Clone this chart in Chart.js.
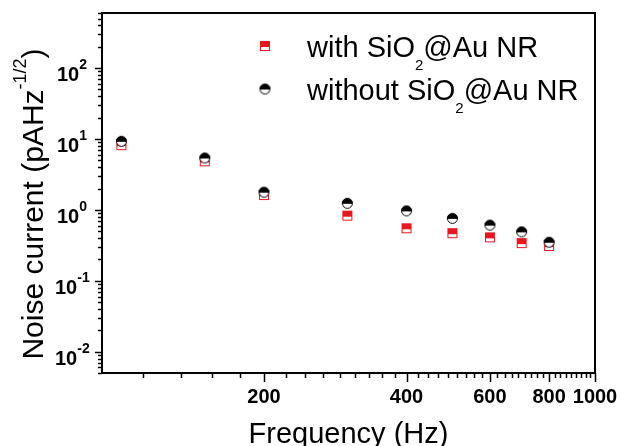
<!DOCTYPE html>
<html>
<head>
<meta charset="utf-8">
<title>Noise current vs frequency</title>
<script src="https://cdn.jsdelivr.net/npm/chart.js@4.4.1/dist/chart.umd.min.js"></script>
<style>
    html, body { margin: 0; padding: 0; background: #fff; }
    #wrap { width: 621px; height: 446px; position: relative; }
</style>
</head>
<body>
<div id="wrap"><canvas id="noiseChart"></canvas></div>
<script>
// measured noise current (pA/Hz^1/2) at each frequency
const frequencies = [100, 150, 200, 300, 400, 500, 600, 700, 800];
const withNR = [8.2, 4.85, 1.62, 0.83, 0.55, 0.47, 0.41, 0.34, 0.31];
const withoutNR = [9.3, 5.4, 1.78, 1.24, 0.97, 0.76, 0.61, 0.49, 0.35];

// axis ticks
const xTickLabels = [200, 400, 600, 800, 1000];
const yTickExponents = [2, 1, 0, -1, -2];

const FONT = '"Liberation Sans", Arial, sans-serif';
const RED = '#e8161e';

// half-filled markers (top half solid, bottom half open)
function halfSquare(size, color) {
    const c = document.createElement('canvas');
    c.width = size + 2; c.height = size + 2;
    const g = c.getContext('2d');
    g.fillStyle = '#fff';
    g.fillRect(1, 1, size, size);
    g.fillStyle = color;
    g.fillRect(1, 1, size, Math.round(size * 0.55));
    g.strokeStyle = color;
    g.lineWidth = 1;
    g.strokeRect(1.5, 1.5, size - 1, size - 1);
    return c;
}
function halfCircle(size, color) {
    const c = document.createElement('canvas');
    c.width = size + 2; c.height = size + 2;
    const g = c.getContext('2d');
    const m = c.width / 2, r = size / 2;
    g.beginPath();
    g.arc(m, m, r - 0.5, 0, Math.PI * 2);
    g.fillStyle = '#fff';
    g.fill();
    g.strokeStyle = color;
    g.lineWidth = 1;
    g.stroke();
    g.beginPath();
    g.arc(m, m + 0.5, r, Math.PI, Math.PI * 2);
    g.closePath();
    g.fillStyle = color;
    g.fill();
    return c;
}
const squareMark = halfSquare(10, RED);
const circleMark = halfCircle(11, '#000');

// text made of runs so sub/superscripts can be drawn
function runsWidth(ctx, runs) {
    let w = 0;
    runs.forEach(r => { ctx.font = r.font; w += ctx.measureText(r.text).width; });
    return w;
}
function drawRuns(ctx, x, y, runs) {
    runs.forEach(r => {
        ctx.font = r.font;
        ctx.fillText(r.text, x, y + (r.dy || 0));
        x += ctx.measureText(r.text).width;
    });
}

const axesPlugin = {
    id: 'originAxes',
    afterDraw(chart) {
        const ctx = chart.ctx;
        const area = chart.chartArea;
        const xs = chart.scales.x, ys = chart.scales.y;
        ctx.save();
        ctx.fillStyle = '#000';
        ctx.strokeStyle = '#000';
        ctx.textBaseline = 'alphabetic';
        ctx.textAlign = 'left';

        // frame
        ctx.lineWidth = 2;
        ctx.strokeRect(area.left, area.top, area.right - area.left, area.bottom - area.top);

        // x ticks: majors every 200, minors every 200/9
        ctx.lineWidth = 1.5;
        ctx.beginPath();
        for (let k = 1; k <= 45; k++) {
            const v = k * 200 / 9;
            if (v < xs.min || v > xs.max + 0.01) continue;
            const px = Math.round(xs.getPixelForValue(v)) + 0.5;
            const len = k % 9 === 0 ? 9 : 5;
            ctx.moveTo(px, area.bottom);
            ctx.lineTo(px, area.bottom + len);
        }
        // y ticks: decades and 2..9 minors
        for (let e = -3; e <= 2; e++) {
            for (let m = 1; m <= 9; m++) {
                const v = m * Math.pow(10, e);
                if (v < ys.min || v > ys.max) continue;
                const py = Math.round(ys.getPixelForValue(v)) + 0.5;
                const len = m === 1 ? 7 : 4;
                ctx.moveTo(area.left, py);
                ctx.lineTo(area.left - len, py);
            }
        }
        ctx.stroke();

        // x tick labels
        ctx.font = 'bold 20px ' + FONT;
        ctx.textAlign = 'center';
        xTickLabels.forEach(v => {
            ctx.fillText(String(v), xs.getPixelForValue(v), area.bottom + 30);
        });
        ctx.textAlign = 'left';

        // y tick labels 10^n
        yTickExponents.forEach(e => {
            const py = ys.getPixelForValue(Math.pow(10, e));
            drawRuns(ctx, e < 0 ? 55 : 57, py + 13, [
                { text: '10', font: 'bold 20px ' + FONT },
                { text: e < 0 ? '-' + (-e) : String(e), font: 'bold 14px ' + FONT, dy: -12 }
            ]);
        });

        // axis titles
        const xTitle = [{ text: 'Frequency (Hz)', font: '29px ' + FONT }];
        drawRuns(ctx, (area.left + area.right) / 2 - runsWidth(ctx, xTitle) / 2, 443, xTitle);

        const yTitle = [
            { text: 'Noise current (pAHz', font: '30px ' + FONT },
            { text: '-1/2', font: '18px ' + FONT, dy: -17 },
            { text: ')', font: '30px ' + FONT }
        ];
        ctx.save();
        ctx.translate(43, 204);
        ctx.rotate(-Math.PI / 2);
        drawRuns(ctx, -runsWidth(ctx, yTitle) / 2, 0, yTitle);
        ctx.restore();

        // legend
        const rows = [
            { mark: squareMark, y: 46, lead: 'with SiO' },
            { mark: circleMark, y: 89, lead: 'without SiO' }
        ];
        rows.forEach(r => {
            ctx.drawImage(r.mark, 265 - r.mark.width / 2, r.y - r.mark.height / 2);
            drawRuns(ctx, 307, r.y + 11, [
                { text: r.lead, font: '29px ' + FONT },
                { text: '2', font: '15px ' + FONT, dy: 13 },
                { text: '@Au NR', font: '29px ' + FONT }
            ]);
        });
        ctx.restore();
    }
};

const toPoints = ys => frequencies.map((f, i) => ({ x: f, y: ys[i] }));

new Chart(document.getElementById('noiseChart'), {
    type: 'scatter',
    data: {
        datasets: [
            {
                label: 'with SiO2@Au NR',
                data: toPoints(withNR),
                pointStyle: squareMark,
                order: 2
            },
            {
                label: 'without SiO2@Au NR',
                data: toPoints(withoutNR),
                pointStyle: circleMark,
                order: 1
            }
        ]
    },
    options: {
        responsive: true,
        maintainAspectRatio: false,
        animation: false,
        layout: { padding: { left: 102, right: 26, top: 13, bottom: 73 } },
        plugins: {
            legend: { display: false },
            tooltip: { enabled: false }
        },
        scales: {
            x: { type: 'logarithmic', min: 91, max: 1000, display: false },
            y: { type: 'logarithmic', min: 0.005, max: 600, display: false }
        }
    },
    plugins: [axesPlugin]
});
</script>
</body>
</html>
